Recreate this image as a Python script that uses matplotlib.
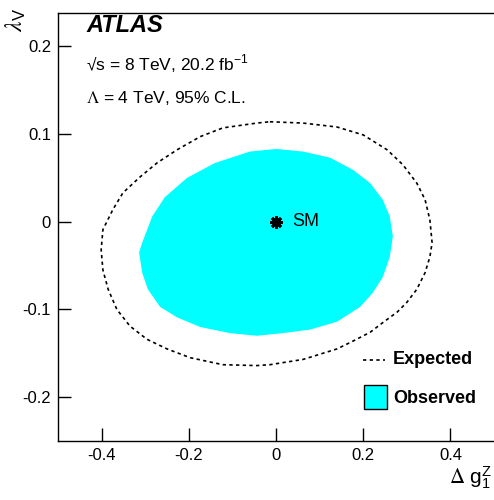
import matplotlib
matplotlib.use('Agg')
import matplotlib.pyplot as plt
from matplotlib.patches import Polygon, Rectangle
from matplotlib.lines import Line2D

# observed 95% C.L. contour (filled)
obs_dg1z = [0.000, 0.062, 0.124, 0.177, 0.216, 0.245, 0.261, 0.268, 0.261, 0.245,
            0.222, 0.193, 0.140, 0.078, 0.016, -0.044, -0.106, -0.174, -0.227, -0.266,
            -0.294, -0.307, -0.314, -0.307, -0.284, -0.255, -0.204, -0.140, -0.060]
obs_lv = [0.083, 0.080, 0.073, 0.059, 0.044, 0.025, 0.006, -0.017, -0.040, -0.063,
          -0.081, -0.097, -0.114, -0.123, -0.127, -0.130, -0.127, -0.120, -0.109, -0.097,
          -0.077, -0.058, -0.035, -0.024, 0.006, 0.028, 0.050, 0.067, 0.080]

# expected 95% C.L. contour (dotted)
exp_dg1z = [-0.014, 0.062, 0.140, 0.200, 0.255, 0.291, 0.323, 0.342, 0.353, 0.358,
            0.353, 0.342, 0.323, 0.300, 0.278, 0.245, 0.216, 0.177, 0.140, 0.062,
            -0.014, -0.044, -0.122, -0.197, -0.250, -0.296, -0.335, -0.365, -0.385,
            -0.397, -0.401, -0.397, -0.374, -0.351, -0.312, -0.273, -0.227, -0.174,
            -0.122, -0.044]
exp_lv = [0.114, 0.1125, 0.108, 0.099, 0.082, 0.065, 0.044, 0.025, 0.002, -0.024,
          -0.040, -0.058, -0.077, -0.092, -0.103, -0.115, -0.126, -0.136, -0.145, -0.157,
          -0.163, -0.164, -0.163, -0.155, -0.145, -0.134, -0.119, -0.100, -0.077,
          -0.055, -0.032, -0.009, 0.014, 0.033, 0.051, 0.067, 0.082, 0.097,
          0.107, 0.1125]

sm_point = (0.0, 0.0)
xticks = [-0.4, -0.2, 0, 0.2, 0.4]
yticks = [-0.2, -0.1, 0, 0.1, 0.2]

plt.rcParams['font.family'] = ['Liberation Sans', 'DejaVu Sans']
plt.rcParams['mathtext.fontset'] = 'stix'

fig = plt.figure(figsize=(4.94, 5.0), dpi=100)
ax = fig.add_axes([58/494, 1-441/500, 1-58/494, (441-13)/500])

ax.add_patch(Polygon(list(zip(obs_dg1z, obs_lv)), closed=True,
                     facecolor='#00ffff', edgecolor='none'))
ax.plot(exp_dg1z + exp_dg1z[:1], exp_lv + exp_lv[:1], color='black',
        linestyle=(0, (2, 2)), linewidth=1.2)
ax.plot(*sm_point, marker=(8, 2, 0), color='black', markersize=9, markeredgewidth=2)
ax.text(0.038, 0.0, 'SM', fontsize=13, va='center', ha='left')

ax.set_xlim(-0.5, 0.5)
ax.set_ylim(-0.25, 0.238)
ax.set_xticks(xticks)
ax.set_xticklabels(['-0.4', '-0.2', '0', '0.2', '0.4'])
ax.set_yticks(yticks)
ax.set_yticklabels(['-0.2', '-0.1', '0', '0.1', '0.2'])
ax.tick_params(direction='in', length=9.5, width=1, labelsize=12, pad=5)
ax.spines['right'].set_visible(False)
for s in ['left', 'bottom', 'top']:
    ax.spines[s].set_linewidth(1)

fig.text(86/494, 1-32/500, 'ATLAS', fontsize=17, fontweight='bold', style='italic')
fig.text(86/494, 1-70/500, '\u221as = 8 TeV, 20.2 fb$^{\\mathregular{-1}}$', fontsize=12.5)
fig.text(86/494, 1-103/500, '$\\Lambda$ = 4 TeV, 95% C.L.', fontsize=12.5)

fig.text(16/494, 1-20/500, r'$\lambda_{\mathregular{V}}$', fontsize=17, rotation=90,
         ha='center', va='center')
fig.text(1-2/494, 1-478/500, r'$\Delta$ g$_{\mathregular{1}}^{\mathregular{Z}}$', fontsize=15,
         ha='right', va='center')

# legend
fig.add_artist(Line2D([363/494, 385/494], [1-360/500, 1-360/500], color='black',
                      linestyle=(0, (2, 2)), linewidth=1.2))
fig.text(393/494, 1-364/500, 'Expected', fontsize=13, fontweight='bold')
fig.add_artist(Rectangle((364/494, 1-409/500), 23/494, 24/500, facecolor='#00ffff',
                         edgecolor='black', linewidth=1))
fig.text(393/494, 1-403/500, 'Observed', fontsize=13, fontweight='bold')

fig.savefig('out.png', dpi=100)
